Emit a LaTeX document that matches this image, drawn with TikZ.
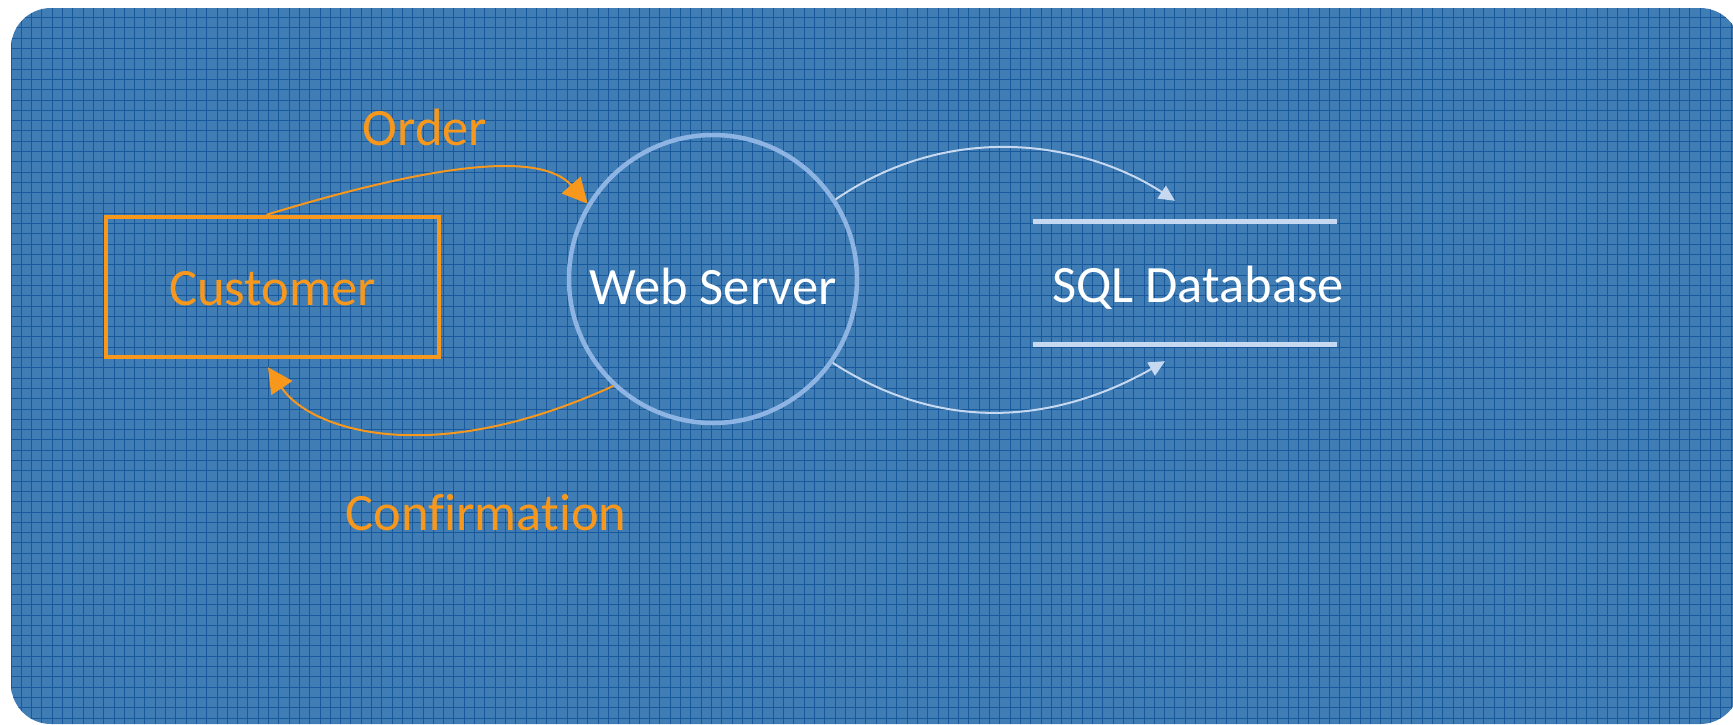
\documentclass[tikz,border=0pt]{standalone}
\usepackage{fontspec}
\setmainfont[Ligatures=NoCommon]{Carlito}
\usetikzlibrary{arrows.meta}

\definecolor{bgblue}{RGB}{64,125,180}
\definecolor{gridblue}{RGB}{24,88,156}
\definecolor{flow}{RGB}{247,152,29}
\definecolor{ring}{RGB}{141,180,226}
\definecolor{store}{RGB}{198,217,240}

\begin{document}
\begin{tikzpicture}[x=1pt,y=-1pt,
		bigtxt/.style={font=\fontsize{52.5}{60}\selectfont,text depth=0pt}]
	\tikzstyle{entity}=[draw=flow,line width=4.5pt,text=flow,minimum width=333pt,minimum height=140pt,inner sep=0pt]
	\tikzstyle{process}=[circle,draw=ring,line width=4.5pt,text=white,minimum size=288pt,inner sep=0pt]
	\tikzstyle{datastore}=[minimum width=304pt,minimum height=122pt,inner sep=0pt]
	\tikzstyle{orderflow}=[draw=flow,line width=2pt,-{Triangle[length=25pt,width=25pt]}]
	\tikzstyle{dataflow}=[draw=store,line width=2pt,-{Triangle[length=16pt,width=15pt]}]

	\useasboundingbox (0,0) rectangle (1733,724);
	\fill[bgblue,rounded corners=40pt] (11,8) rectangle (1740,724);
	\begin{scope}
		\clip[rounded corners=40pt] (11,8) rectangle (1740,724);
		\begin{scope}[shift={(11,7.3)}]
			\draw[gridblue,line width=1pt,step=10.3pt] (0,0) grid (1729,717);
		\end{scope}
	\end{scope}

	\node[entity,bigtxt,text height=36pt] (cust) at (272.5,287) {Customer};
	\node[process,bigtxt,text height=50pt] (web) at (713,279) {Web Server};
	\node[datastore] (db) at (1185,283) {};
	\draw[store,line width=5pt] (db.north west) -- (db.north east) (db.south west) -- (db.south east);
	\node[bigtxt,text=white,anchor=base] (dbname) at (1198,302) {SQL Database};

	\node[bigtxt,text=flow,anchor=base] (order) at (425,145) {Order};
	\node[bigtxt,text=flow,anchor=base] (confirm) at (486,530) {Confirmation};

	% flows
	\path[orderflow] ([xshift=-6pt]cust.north) .. controls (430,165) and (540,150) .. (web.149);
	\path[orderflow] (web.227) .. controls (430,470) and (310,430) .. ([xshift=-4.5pt,yshift=-8pt]cust.south);
	\path[dataflow] (web.33) .. controls (956,117) and (1090,145) .. ([xshift=-10pt,yshift=21pt]db.north);
	\path[dataflow] (web.-35) .. controls (957,443) and (1074,413) .. ([xshift=-20pt,yshift=-17pt]db.south);
\end{tikzpicture}
\end{document}
